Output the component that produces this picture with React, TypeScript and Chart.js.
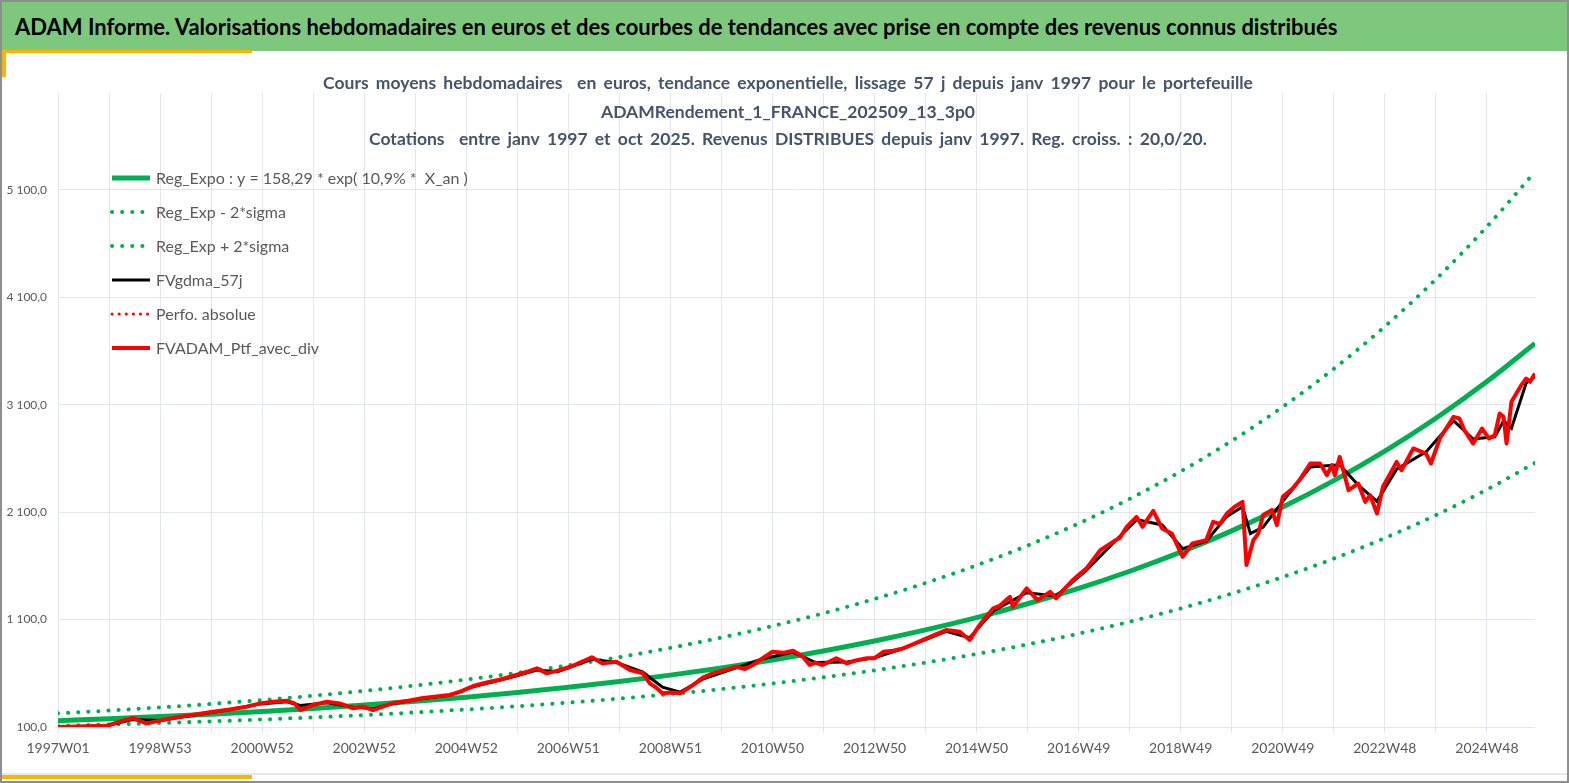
import { useEffect, useRef } from "react";
import { Chart, registerables, type Plugin } from "chart.js";

Chart.register(...registerables);

const headerTitle =
  "ADAM Informe. Valorisations hebdomadaires en euros et des courbes de tendances avec prise en compte des revenus connus distribués";

const titleLines = [
  "Cours moyens hebdomadaires  en euros, tendance exponentielle, lissage 57 j depuis janv 1997 pour le portefeuille",
  "ADAMRendement_1_FRANCE_202509_13_3p0",
  "Cotations  entre janv 1997 et oct 2025. Revenus DISTRIBUES depuis janv 1997. Reg. croiss. : 20,0/20.",
];

// x axis: weeks counted from 1997W01
const xTickLabels = [
  "1997W01", "1998W53", "2000W52", "2002W52", "2004W52", "2006W51", "2008W51", "2010W50",
  "2012W50", "2014W50", "2016W49", "2018W49", "2020W49", "2022W48", "2024W48",
];
const yTickValues = [100, 1100, 2100, 3100, 4100, 5100];

const trendWeeks = [
  0, 52, 104, 156, 208, 260, 312, 364, 416, 468, 520, 572, 624, 676, 728, 780, 832, 884, 936,
  988, 1040, 1092, 1144, 1196, 1248, 1300, 1352, 1404, 1456, 1505,
];
const trendValues = [
  158.3, 176.5, 196.7, 219.3, 244.4, 272.5, 303.8, 338.6, 377.5, 420.8, 469.1, 522.9, 582.9,
  649.8, 724.3, 807.4, 900.1, 1003.4, 1118.5, 1246.8, 1389.9, 1549.4, 1727.2, 1925.4, 2146.3,
  2392.6, 2667.2, 2973.2, 3314.4, 3670,
];
const lowerValues = [
  110.3, 123.0, 137.1, 152.8, 170.3, 189.9, 211.7, 236.0, 263.0, 293.2, 326.9, 364.4, 406.2,
  452.8, 504.7, 562.7, 627.2, 699.2, 779.4, 868.9, 968.6, 1079.7, 1203.6, 1341.7, 1495.7,
  1667.3, 1858.6, 2071.9, 2309.7, 2557.5,
];
const upperValues = [
  227.1, 253.2, 282.3, 314.7, 350.8, 391.0, 435.9, 485.9, 541.6, 603.8, 673.1, 750.3, 836.4,
  932.4, 1039.4, 1158.6, 1291.6, 1439.8, 1605.0, 1789.2, 1994.5, 2223.4, 2478.5, 2762.9,
  3079.9, 3433.4, 3827.4, 4266.6, 4756.2, 5266.5,
];

const gdmaWeeks = [
  0, 50, 76, 104, 138, 175, 206, 233, 247, 274, 301, 321, 341, 372, 399, 423, 461, 488, 509,
  544, 569, 596, 616, 634, 657, 691, 718, 749, 772, 804, 832, 861, 905, 929, 953, 987, 1017,
  1048, 1075, 1099, 1125, 1146, 1170, 1191, 1207, 1215, 1228, 1248, 1276, 1306, 1325, 1344,
  1364, 1394, 1422, 1442, 1464, 1473, 1481, 1496, 1505,
];
const gdmaValues = [
  100, 112, 170, 160, 210, 260, 315, 335, 300, 325, 285, 270, 315, 365, 395, 475, 560, 630,
  615, 730, 700, 610, 470, 425, 545, 650, 735, 795, 700, 705, 745, 830, 990, 930, 1180, 1350,
  1320, 1560, 1810, 2030, 1980, 1760, 1830, 2060, 2150, 1900, 1960, 2200, 2520, 2540, 2350,
  2200, 2500, 2660, 2950, 2780, 2800, 2950, 2880, 3300, 3360,
];

const ptfWeeks = [
  0, 22, 50, 63, 76, 90, 104, 117, 138, 158, 175, 192, 206, 219, 233, 241, 247, 260, 274, 287,
  301, 311, 321, 331, 341, 357, 372, 386, 399, 410, 423, 440, 450, 461, 478, 488, 498, 509,
  522, 532, 544, 555, 569, 583, 596, 603, 609, 616, 625, 634, 647, 657, 667, 680, 691, 700,
  708, 718, 728, 739, 749, 759, 766, 772, 779, 793, 804, 813, 824, 832, 841, 851, 861, 871,
  881, 894, 905, 919, 925, 929, 939, 953, 960, 970, 973, 987, 998, 1011, 1017, 1026, 1034,
  1048, 1062, 1075, 1082, 1089, 1099, 1105, 1116, 1125, 1135, 1141, 1146, 1156, 1170, 1177,
  1184, 1191, 1199, 1207, 1211, 1218, 1223, 1228, 1237, 1242, 1248, 1258, 1265, 1276, 1286,
  1293, 1298, 1301, 1306, 1315, 1325, 1332, 1337, 1344, 1350, 1357, 1364, 1369, 1381, 1394,
  1399, 1408, 1422, 1428, 1433, 1442, 1451, 1458, 1464, 1469, 1473, 1476, 1481, 1491, 1496,
  1500, 1505,
];
const ptfValues = [
  100, 105, 112, 150, 184, 134, 160, 184, 215, 242, 262, 289, 320, 335, 345, 320, 258, 305,
  335, 320, 274, 290, 258, 290, 323, 345, 370, 385, 398, 430, 481, 521, 540, 568, 614, 646,
  599, 625, 661, 700, 748, 692, 707, 630, 600, 506, 470, 413, 420, 413, 490, 560, 599, 630,
  661, 640, 677, 740, 800, 790, 810, 754, 677, 700, 677, 739, 692, 720, 739, 740, 800, 810,
  832, 870, 909, 960, 1002, 986, 940, 909, 1049, 1204, 1230, 1312, 1219, 1390, 1281, 1358,
  1297, 1390, 1467, 1576, 1746, 1823, 1860, 1963, 2056, 1963, 2112, 1948, 1901, 1780, 1684,
  1808, 1839, 2009, 1990, 2087, 2150, 2195, 1607, 1839, 1900, 2072, 2119, 1979, 2242, 2320,
  2398, 2552, 2552, 2444, 2537, 2444, 2614, 2304, 2366, 2195, 2258, 2087, 2335, 2450, 2567,
  2490, 2692, 2645, 2552, 2785, 2986, 2971, 2862, 2738, 2878, 2785, 2816, 3017, 2986, 2738,
  3126, 3281, 3343, 3312, 3390,
];

const GREEN = "#00b050";
const RED = "#ff0000";
const DOTS = [0.1, 10];
const FONT = "Lato";

const pts = (weeks: number[], values: number[]) => weeks.map((x, i) => ({ x, y: values[i] }));

const overlayPlugin: Plugin<"line"> = {
  id: "overlay",
  afterDraw(chart) {
    const { ctx } = chart;
    ctx.save();
    ctx.fillStyle = "#44546a";
    ctx.font = `bold 17.5px ${FONT}`;
    ctx.textAlign = "center";
    ctx.textBaseline = "middle";
    (ctx as any).wordSpacing = "3px";
    titleLines.forEach((line, i) => ctx.fillText(line, 783, [29, 58, 85][i]));
    (ctx as any).wordSpacing = "0px";

    ctx.textAlign = "left";
    ctx.font = `16px ${FONT}`;
    chart.data.datasets.forEach((ds: any, i) => {
      const y = 124 + i * 34;
      ctx.beginPath();
      ctx.strokeStyle = ds.borderColor;
      ctx.lineWidth = ds.borderWidth;
      ctx.lineCap = ds.borderDash ? "round" : "butt";
      ctx.setLineDash(ds.borderDash || []);
      ctx.moveTo(107, y);
      ctx.lineTo(145, y);
      ctx.stroke();
      ctx.setLineDash([]);
      ctx.fillStyle = "#595959";
      ctx.fillText(ds.label, 151, y + 1);
    });
    ctx.restore();
  },
};

function AdamChart() {
  const canvasRef = useRef<HTMLCanvasElement | null>(null);

  useEffect(() => {
    if (!canvasRef.current) return;
    const chart = new Chart(canvasRef.current, {
      type: "line",
      data: {
        datasets: [
          {
            label: "Reg_Expo : y = 158,29 * exp( 10,9% *  X_an )",
            data: pts(trendWeeks, trendValues),
            borderColor: GREEN,
            borderWidth: 5,
            cubicInterpolationMode: "monotone",
            order: 3,
          },
          {
            label: "Reg_Exp - 2*sigma",
            data: pts(trendWeeks, lowerValues),
            borderColor: GREEN,
            borderWidth: 4,
            borderDash: DOTS,
            borderCapStyle: "round",
            cubicInterpolationMode: "monotone",
            order: 4,
          },
          {
            label: "Reg_Exp + 2*sigma",
            data: pts(trendWeeks, upperValues),
            borderColor: GREEN,
            borderWidth: 4,
            borderDash: DOTS,
            borderCapStyle: "round",
            cubicInterpolationMode: "monotone",
            order: 5,
          },
          {
            label: "FVgdma_57j",
            data: pts(gdmaWeeks, gdmaValues),
            borderColor: "#000000",
            borderWidth: 3,
            order: 1,
          },
          {
            label: "Perfo. absolue",
            data: [],
            borderColor: RED,
            borderWidth: 3,
            borderDash: [0.1, 7],
            borderCapStyle: "round",
            order: 2,
          },
          {
            label: "FVADAM_Ptf_avec_div",
            data: pts(ptfWeeks, ptfValues),
            borderColor: RED,
            borderWidth: 4,
            borderJoinStyle: "round",
            order: 0,
          },
        ],
      },
      options: {
        animation: false,
        responsive: true,
        maintainAspectRatio: false,
        layout: { padding: { left: 0, right: 30, top: 39, bottom: 0 } },
        elements: { point: { radius: 0 } },
        plugins: { legend: { display: false }, title: { display: false }, tooltip: { enabled: false } },
        scales: {
          x: {
            type: "linear",
            min: 0,
            max: 1505,
            afterBuildTicks: (scale) => {
              const ticks = [];
              for (let w = 0; w <= scale.max; w += 52) ticks.push({ value: w });
              scale.ticks = ticks;
            },
            afterFit: (scale) => {
              scale.height = 47;
            },
            grid: { color: "#e3e6ec", lineWidth: 1, tickLength: 6 },
            border: { display: false },
            ticks: {
              autoSkip: false,
              maxRotation: 0,
              padding: 7,
              color: "#595959",
              font: { family: FONT, size: 14 },
              callback: (_v, i) => (i % 2 === 0 ? xTickLabels[i / 2] : ""),
            },
          },
          y: {
            type: "linear",
            min: 100,
            max: 6000,
            afterBuildTicks: (scale) => {
              scale.ticks = yTickValues.map((value) => ({ value }));
            },
            afterFit: (scale) => {
              scale.width = 53;
            },
            grid: { color: "#e3e6ec", lineWidth: 1, drawTicks: false },
            border: { display: false },
            ticks: {
              padding: 11,
              color: "#595959",
              font: { family: FONT, size: 12 },
              callback: (v) =>
                Number(v).toLocaleString("fr-FR", { minimumFractionDigits: 1, maximumFractionDigits: 1 }),
            },
          },
        },
      },
      plugins: [overlayPlugin],
    });
    return () => chart.destroy();
  }, []);

  return <canvas ref={canvasRef} />;
}

export default function App() {
  return (
    <div
      style={{
        position: "absolute",
        left: 0,
        top: 0,
        width: 1569,
        height: 783,
        background: "#ffffff",
        boxSizing: "border-box",
        border: "2px solid #8e8e8e",
        fontFamily: FONT,
        overflow: "hidden",
      }}
    >
      <div
        style={{
          position: "absolute",
          left: 0,
          top: 0,
          right: 0,
          height: 49,
          background: "#7ec87d",
          color: "#000000",
          fontWeight: 700,
          fontSize: 22,
          lineHeight: "49px",
          paddingLeft: 13,
          whiteSpace: "nowrap",
        }}
      >
        {headerTitle}
      </div>
      <div style={{ position: "absolute", left: 0, top: 48, width: 250, height: 3, background: "#f5b800" }} />
      <div style={{ position: "absolute", left: 0, top: 48, width: 4, height: 27, background: "#f5b800" }} />
      <div style={{ position: "absolute", left: 0, top: 771, right: 0, height: 2, background: "#e8e8ec" }} />
      <div style={{ position: "absolute", left: 0, top: 773, width: 250, height: 4, background: "#f5b800" }} />
      <div style={{ position: "absolute", left: 3, top: 52, width: 1560, height: 720 }}>
        <AdamChart />
      </div>
    </div>
  );
}
